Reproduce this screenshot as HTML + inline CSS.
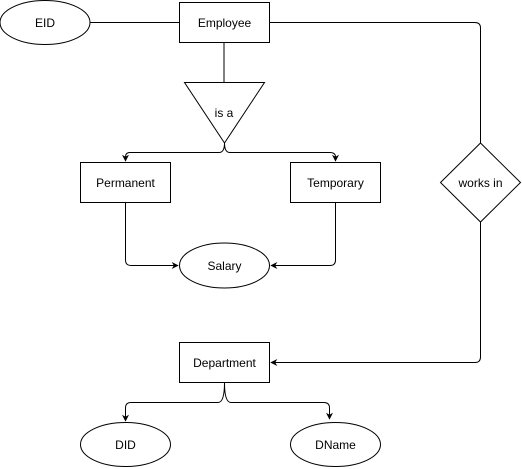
<!DOCTYPE html>
<html><head><style>html,body{margin:0;padding:0;background:#fff}svg{display:block}text{font-family:"Liberation Sans",Arial,sans-serif;font-size:12px;fill:#000}</style></head>
<body>
<svg width="522" height="469" viewBox="0 0 522 469" xmlns="http://www.w3.org/2000/svg">
<defs><marker id="a" viewBox="0 0 10 10" refX="9" refY="5" markerWidth="7" markerHeight="7" orient="auto"><path d="M0,0 L10,5 L0,10 L3,5 Z" fill="#000"/></marker></defs>
<g fill="none" stroke="#000" stroke-width="1">
<ellipse cx="45" cy="22.5" rx="45" ry="22"/>
<rect x="179.5" y="2.5" width="90" height="40" fill="#fff"/>
<line x1="90" y1="22.5" x2="179.5" y2="22.5"/>
<path d="M269.5,22.5 H475 Q480.5,22.5 480.5,28 V143"/>
<path d="M480.5,143 L520.5,182.5 L480.5,222 L440.5,182.5 Z"/>
<path d="M480.5,222 V357 Q480.5,362.5 475,362.5 H271" marker-end="url(#a)"/>
<line x1="224" y1="42.5" x2="224" y2="82.5"/>
<path d="M184.5,82.5 H264.5 L224.5,143 Z"/>
<path d="M224.5,143 Q224.5,152.5 219,152.5 H130 Q125.5,152.5 125.5,157 V161" marker-end="url(#a)"/>
<path d="M224.5,143 Q224.5,152.5 230,152.5 H330 Q335.5,152.5 335.5,157 V161" marker-end="url(#a)"/>
<rect x="80.5" y="162.5" width="90" height="40"/>
<rect x="290.5" y="162.5" width="90" height="40"/>
<ellipse cx="224.5" cy="265.5" rx="45" ry="22.5"/>
<path d="M125.5,202.5 V260 Q125.5,265.5 131,265.5 H178" marker-end="url(#a)"/>
<path d="M335.5,202.5 V260 Q335.5,265.5 330,265.5 H271" marker-end="url(#a)"/>
<rect x="179.5" y="342.5" width="90" height="40"/>
<path d="M224.5,382.5 Q224.5,402.5 218,402.5 H131 Q125.5,402.5 125.5,408 V421" marker-end="url(#a)"/>
<path d="M224.5,382.5 Q224.5,402.5 231,402.5 H324 Q329.5,402.5 329.5,408 V419" marker-end="url(#a)"/>
<ellipse cx="125.5" cy="444.5" rx="45" ry="22"/>
<ellipse cx="335.5" cy="444.5" rx="45" ry="22"/>
</g>
<g text-anchor="middle">
<text x="45" y="27">EID</text>
<text x="224.5" y="27">Employee</text>
<text x="224" y="117">is a</text>
<text x="480.5" y="187">works in</text>
<text x="125.5" y="187">Permanent</text>
<text x="335.5" y="187">Temporary</text>
<text x="224.5" y="270">Salary</text>
<text x="224.5" y="367">Department</text>
<text x="125.5" y="449">DID</text>
<text x="335.5" y="449">DName</text>
</g>
</svg>
</body></html>
